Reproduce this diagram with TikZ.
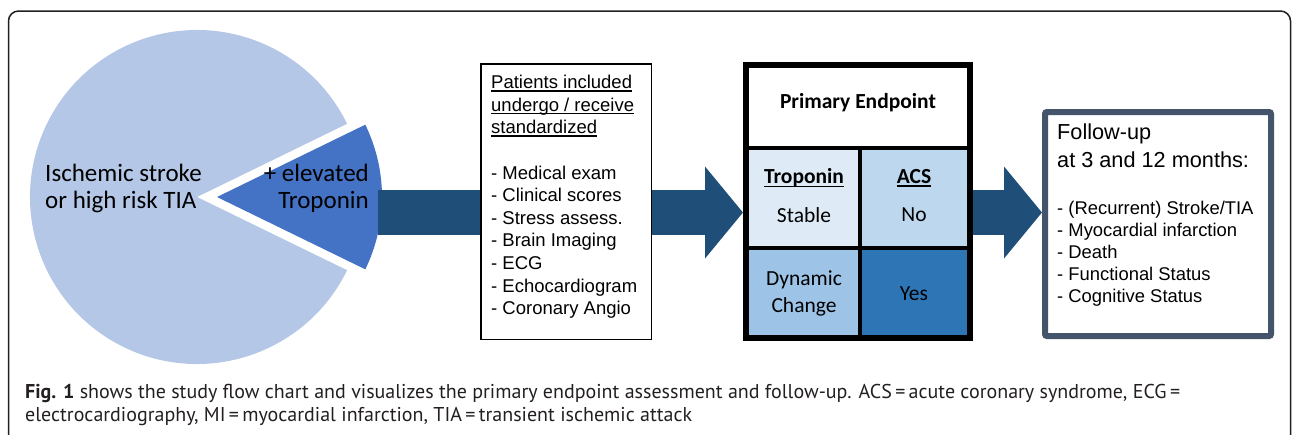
\documentclass[tikz,border=0pt]{standalone}
\usepackage{fontspec}
\setmainfont{Liberation Sans}
\newfontfamily\calfont{Carlito}
\newfontfamily\capfont{PT Sans}
\usetikzlibrary{calc,arrows.meta,positioning}

\definecolor{pieLight}{RGB}{180,199,231}
\definecolor{pieDark}{RGB}{68,114,196}
\definecolor{flowBlue}{RGB}{31,78,121}
\definecolor{cellA}{RGB}{222,235,247}
\definecolor{cellB}{RGB}{189,215,238}
\definecolor{cellC}{RGB}{157,195,230}
\definecolor{cellD}{RGB}{46,117,182}
\definecolor{slate}{RGB}{68,84,106}
\definecolor{capGray}{RGB}{35,31,32}

\newcommand{\PicW}{1292}
\newcommand{\PicH}{434}
\newcommand{\PieX}{197}
\newcommand{\PieY}{197}
\newcommand{\PieR}{167}
\newcommand{\PieCut}{26}
\newcommand{\SliceShift}{20}
\newcommand{\SliceR}{165}
\newcommand{\FlowY}{212.5}
\newcommand{\EpL}{749}
\newcommand{\EpR}{967}
\newcommand{\EpB}{335}
\newcommand{\EpMidX}{860}
\newcommand{\EpRowA}{147.5}
\newcommand{\EpRowB}{247.5}

\newsavebox{\undlbox}
\newcommand{\undl}[1]{\sbox\undlbox{#1}\rlap{\rule[-0.16em]{\wd\undlbox}{0.075em}}\usebox\undlbox}

\begin{document}
\begin{tikzpicture}[x=1pt,y=-1pt,
  pietext/.style={font=\calfont\fontsize{25}{27}\selectfont, inner sep=0pt},
  celltext/.style={font=\calfont\fontsize{21.5}{27}\selectfont, align=center, inner sep=0pt},
  listbox/.style={draw, line width=1.5pt, fill=white, inner sep=0pt},
  listtext/.style={font=\fontsize{18.5}{22.6}\selectfont, align=left, inner sep=0pt, anchor=north west},
  captext/.style={font=\capfont\fontsize{20}{23}\selectfont, text=capGray, inner sep=0pt, anchor=base west},
  bigarrow/.style={line width=45pt, flowBlue, -{Triangle[length=38pt,width=90pt]}},
  divider/.style={line width=4pt}
]
\useasboundingbox (0,0) rectangle (\PicW,\PicH);
\clip (0,0) rectangle (\PicW,\PicH);

% ----- Derived values -----
\pgfmathsetmacro{\PieEnd}{360-\PieCut}
\pgfmathsetmacro{\SliceX}{\PieX+\SliceShift}

% Outer frame
\draw[line width=1.5pt, capGray, rounded corners=10pt] (8.5,11) rectangle (1290.5,470);

% Pie with exploded slice
\fill[pieLight] (\PieX,\PieY) -- ++(\PieCut:\PieR) arc[start angle=\PieCut, end angle=\PieEnd, radius=\PieR] -- cycle;
\fill[pieDark] (\SliceX,\PieY) -- ++(-\PieCut:\SliceR) arc[start angle=-\PieCut, end angle=\PieCut, radius=\SliceR] -- cycle;
\node[pietext, align=left, anchor=west] (pieMain) at (45,188.5) {Ischemic stroke\\or high risk TIA};
\node[pietext, align=right, anchor=east] (pieSlice) at (369,188.5) {+ elevated\\Troponin};
\coordinate (pieTip) at (378,\FlowY);

% Primary endpoint box
\node[draw, line width=6pt, fill=white, minimum width=224pt, minimum height=273pt, inner sep=0pt] (endpt) at (858,201.5) {};

% Arrow to endpoint (runs under the list box)
\draw[bigarrow] (pieTip) -- (pieTip -| endpt.west);

% Cells
\fill[cellA] (\EpL,\EpRowA) rectangle (\EpMidX,\EpRowB);
\fill[cellB] (\EpMidX,\EpRowA) rectangle (\EpR,\EpRowB);
\fill[cellC] (\EpL,\EpRowB) rectangle (\EpMidX,\EpB);
\fill[cellD] (\EpMidX,\EpRowB) rectangle (\EpR,\EpB);
\draw[divider] (\EpL,\EpRowA) -- (\EpR,\EpRowA);
\draw[divider] (\EpL,\EpRowB) -- (\EpR,\EpRowB);
\draw[divider] (\EpMidX,\EpRowA) -- (\EpMidX,\EpB);

\node[celltext] (epTitle) at (858,103) {\textbf{Primary Endpoint}};
\node[celltext] (tropHead) at (804,178) {\undl{\textbf{Troponin}}};
\node[celltext] (tropStable) at (804,215) {Stable};
\node[celltext] (acsHead) at (914,178) {\undl{\textbf{ACS}}};
\node[celltext] (acsNo) at (914,215) {No};
\node[celltext] (tropDyn) at (804,293.5) {Dynamic\\Change};
\node[celltext] (acsYes) at (914,294) {Yes};

% Patients box
\node[listbox, anchor=north west, minimum width=170.5pt, minimum height=275.5pt] (patients) at (480,63) {};
\node[listtext] (patientsList) at (491,75) {\undl{Patients included}\\\undl{undergo / receive}\\\undl{standardized}\\[22.6pt]
  - Medical exam\\- Clinical scores\\- Stress assess.\\- Brain Imaging\\- ECG\\- Echocardiogram\\- Coronary Angio};

% Follow-up box
\node[draw=slate, line width=6pt, rounded corners=2pt, fill=white, minimum width=226pt, minimum height=224pt, inner sep=0pt] (follow) at (1158,224) {};
\draw[bigarrow] (endpt.east |- pieTip) -- (pieTip -| follow.west);
\node[listtext, font=\fontsize{21.7}{28}\selectfont] (followHead) at (1057,124) {Follow-up\\at 3 and 12 months:};
\node[listtext, font=\fontsize{18.4}{22}\selectfont] (followList) at (1057,201) {- (Recurrent) Stroke/TIA\\- Myocardial infarction\\- Death\\- Functional Status\\- Cognitive Status};

% Caption
\node[captext] (capA) at (25,398) {\textbf{Fig. 1} shows the study flow chart and visualizes the primary endpoint assessment and follow-up. ACS\,=\,acute coronary syndrome, ECG\,=};
\node[captext] (capB) at (25,421) {electrocardiography, MI\,=\,myocardial infarction, TIA\,=\,transient ischemic attack};

\end{tikzpicture}
\end{document}
